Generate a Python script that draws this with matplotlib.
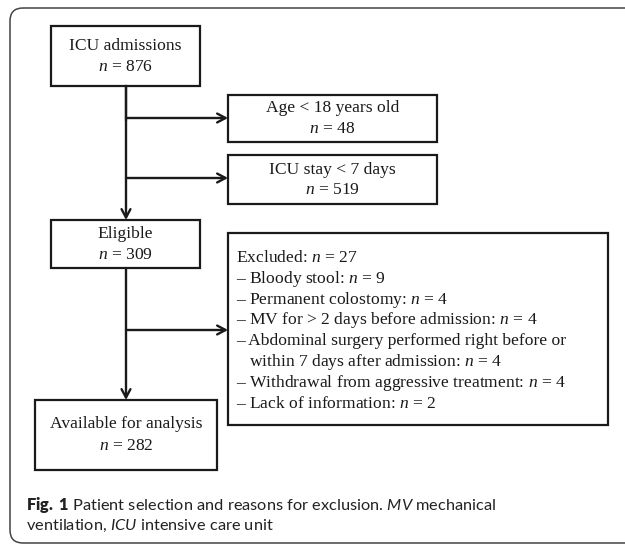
import matplotlib as mpl
import matplotlib.pyplot as plt
from matplotlib.patches import Rectangle, FancyBboxPatch

mpl.rcParams['mathtext.fontset'] = 'custom'
mpl.rcParams['mathtext.rm'] = 'Liberation Serif'
mpl.rcParams['mathtext.it'] = 'Liberation Serif:italic'
mpl.rcParams['mathtext.bf'] = 'Lato:heavy'
mpl.rcParams['mathtext.sf'] = 'Lato:italic'

# flowchart content
main_steps = [["ICU admissions", "$n$ = 876"],
              ["Eligible", "$n$ = 309"],
              ["Available for analysis", "$n$ = 282"]]
side_steps = [["Age < 18 years old", "$n$ = 48"],
              ["ICU stay < 7 days", "$n$ = 519"]]
excluded = ["Excluded: $n$ = 27",
            "– Bloody stool: $n$ = 9",
            "– Permanent colostomy: $n$ = 4",
            "– MV for > 2 days before admission: $n$ = 4",
            "– Abdominal surgery performed right before or",
            "   within 7 days after admission: $n$ = 4",
            "– Withdrawal from aggressive treatment: $n$ = 4",
            "– Lack of information: $n$ = 2"]
caption = ["$\\mathbf{Fig.\\ 1}$ Patient selection and reasons for exclusion. $\\mathsf{MV}$ mechanical",
           "ventilation, $\\mathsf{ICU}$ intensive care unit"]

ink = '#1a1a1a'
fs = 12.6

fig = plt.figure(figsize=(6.25, 5.44), dpi=100)
ax = fig.add_axes([0, 0, 1, 1])
ax.set_xlim(0, 625)
ax.set_ylim(544, 0)
ax.axis('off')

# outer rounded frame (right side runs off the image)
ax.add_patch(FancyBboxPatch((10, 8), 700, 535, boxstyle='round,pad=0,rounding_size=13',
                            fill=False, ec='#444444', lw=1.1))


def box(x0, y0, x1, y1):
    ax.add_patch(Rectangle((x0, y0), x1 - x0, y1 - y0, fill=False, ec=ink, lw=1.6))


def lines_centered(cx, ys, texts):
    for y, t in zip(ys, texts):
        ax.text(cx, y, t, ha='center', va='center', fontsize=fs,
                family='Liberation Serif', color=ink)


def arrow(x0, y0, x1, y1):
    ax.annotate('', xy=(x1, y1), xytext=(x0, y0),
                arrowprops=dict(arrowstyle='->,head_length=0.6,head_width=0.32',
                                lw=1.7, color=ink, shrinkA=0, shrinkB=0))


# main boxes
main_boxes = [(51, 26, 200, 86), (51, 220, 200, 268), (35, 400, 217, 470)]
for (x0, y0, x1, y1), txt in zip(main_boxes, main_steps):
    box(x0, y0, x1, y1)
    cy = (y0 + y1) / 2
    lines_centered((x0 + x1) / 2, [cy - 10.5, cy + 11], txt)

# side boxes
side_boxes = [(228, 95, 437, 142), (228, 155, 437, 204)]
for (x0, y0, x1, y1), txt in zip(side_boxes, side_steps):
    box(x0, y0, x1, y1)
    cy = (y0 + y1) / 2
    lines_centered((x0 + x1) / 2, [cy - 10, cy + 10.5], txt)

# excluded box
box(228, 233, 608, 425)
for i, t in enumerate(excluded):
    ax.text(236, 258 + i * 20.8, t, ha='left', va='center', fontsize=fs,
            family='Liberation Serif', color=ink)

# connectors
spine_x = 126
ax.plot([spine_x, spine_x], [86, 120], color=ink, lw=1.6)
arrow(spine_x, 86, spine_x, 220)
arrow(spine_x, 118, 228, 118)
arrow(spine_x, 178, 228, 178)
arrow(spine_x, 268, spine_x, 400)
arrow(spine_x, 330, 228, 330)

# caption
for i, t in enumerate(caption):
    ax.text(26, 505 + i * 20.5, t, ha='left', va='center', fontsize=11.8,
            family='Lato', color='#222222')

fig.savefig('out.png', dpi=100)
